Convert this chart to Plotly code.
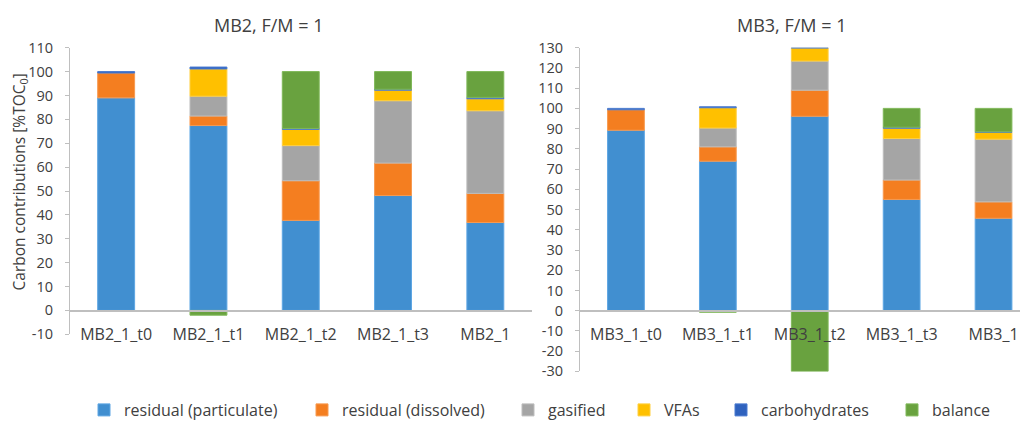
import plotly.graph_objects as go

# ---------------- data ----------------
cats_mb2 = ["MB2_1_t0", "MB2_1_t1", "MB2_1_t2", "MB2_1_t3", "MB2_1"]
cats_mb3 = ["MB3_1_t0", "MB3_1_t1", "MB3_1_t2", "MB3_1_t3", "MB3_1"]

series_names = ["residual (particulate)", "residual (dissolved)", "gasified",
                "VFAs", "carbohydrates", "balance"]

# None = component not present (no bar segment drawn)
mb2_particulate = [89.0, 77.4, 37.7, 48.1, 36.8]
mb2_dissolved = [10.4, 4.0, 16.6, 13.6, 12.2]
mb2_gasified = [None, 8.3, 14.7, 26.1, 34.6]
mb2_vfas = [None, 11.4, 6.8, 4.4, 5.0]
mb2_carbohydrates = [0.6, 0.8, 0.4, 0.4, 0.6]
mb2_balance = [None, -2.0, 23.8, 7.4, 10.8]

mb3_particulate = [89.2, 73.9, 96.1, 55.0, 45.7]
mb3_dissolved = [10.1, 7.1, 12.9, 9.6, 8.1]
mb3_gasified = [None, 9.3, 14.4, 20.5, 31.0]
mb3_vfas = [None, 10.0, 6.4, 5.1, 3.4]
mb3_carbohydrates = [0.7, 0.5, 0.3, 0.5, 0.2]
mb3_balance = [None, -0.8, -30.0, 9.3, 11.6]

y_ticks_mb2 = list(range(-10, 111, 10))
y_ticks_mb3 = list(range(-30, 131, 10))

title_mb2 = "MB2, F/M = 1"
title_mb3 = "MB3, F/M = 1"
y_title = "Carbon contributions [%TOC<sub>0</sub>]"

# ---------------- styles ----------------
colors = ["#418FD0", "#F47E20", "#A5A5A5", "#FFC000", "#2F62BE", "#69A23F"]
edge_colors = ["#5EA6E3", "#F79A50", "#BDBDBD", "#FFCF40", "#4A7BD0", "#80B85A"]
legend_ids = ["legend", "legend2", "legend3", "legend4", "legend5", "legend6"]
legend_marker_left_px = [103, 321, 527, 643, 740, 911]

WIN_W, WIN_H = 1028, 421
OFF = 8  # default page body margin
W, H = WIN_W - OFF, WIN_H - OFF
FONT = "Open Sans"
TXT = "#404040"
AX = "#BFBFBF"

mb2_data = [mb2_particulate, mb2_dissolved, mb2_gasified, mb2_vfas,
            mb2_carbohydrates, mb2_balance]
mb3_data = [mb3_particulate, mb3_dissolved, mb3_gasified, mb3_vfas,
            mb3_carbohydrates, mb3_balance]

fig = go.Figure()
for i, name in enumerate(series_names):
    fig.add_trace(go.Bar(
        x=cats_mb2, y=mb2_data[i], name=name, xaxis="x", yaxis="y",
        marker=dict(color=colors[i], line=dict(color=edge_colors[i], width=1)),
        legend=legend_ids[i], showlegend=True,
    ))
    fig.add_trace(go.Bar(
        x=cats_mb3, y=mb3_data[i], name=name, xaxis="x2", yaxis="y2",
        marker=dict(color=colors[i], line=dict(color=edge_colors[i], width=1)),
        legend=legend_ids[i], showlegend=False,
    ))


def px_x(p):
    # screen pixel -> paper fraction
    return (p - OFF) / W


def px_y(p):
    return (WIN_H - p) / H


zero_pos = px_y(310.7)

xaxis_common = dict(
    type="category", showgrid=False, zeroline=False, showline=True,
    linecolor=AX, linewidth=2, ticks="", anchor="free", position=zero_pos,
    tickfont=dict(family=FONT, size=16, color=TXT), ticklabelstandoff=9,
    automargin=False,
)
yaxis_common = dict(
    showgrid=False, zeroline=False, showline=True, linecolor=AX, linewidth=1,
    ticks="outside", ticklen=4, tickcolor=AX,
    tickfont=dict(family=FONT, size=14.5, color=TXT), ticklabelstandoff=9,
    automargin=False,
)

layout = dict(
    width=W, height=H, margin=dict(l=0, r=0, t=0, b=0, autoexpand=False),
    paper_bgcolor="white", plot_bgcolor="white",
    barmode="relative", bargap=0.6,
    xaxis=dict(xaxis_common, domain=[px_x(70), px_x(531.5)], range=[-0.5, 4.5]),
    xaxis2=dict(xaxis_common, domain=[px_x(580), 1.0], range=[-0.5, 4.375]),
    yaxis=dict(yaxis_common, domain=[px_y(334.3), px_y(47.7)], range=[-10, 110],
               tickvals=y_ticks_mb2, ticktext=[str(v) for v in y_ticks_mb2],
               anchor="x"),
    yaxis2=dict(yaxis_common, domain=[px_y(371.4), px_y(47.7)], range=[-30, 130],
                tickvals=y_ticks_mb3, ticktext=[str(v) for v in y_ticks_mb3],
                anchor="x2"),
    annotations=[
        dict(text=title_mb2, x=px_x(268), y=px_y(25), xref="paper", yref="paper",
             showarrow=False, font=dict(family=FONT, size=18, color=TXT),
             xanchor="center", yanchor="middle"),
        dict(text=title_mb3, x=px_x(791), y=px_y(25), xref="paper", yref="paper",
             showarrow=False, font=dict(family=FONT, size=18, color=TXT),
             xanchor="center", yanchor="middle"),
        dict(text=y_title, x=px_x(19), y=px_y(182.5), xref="paper", yref="paper",
             showarrow=False, textangle=-90,
             font=dict(family=FONT, size=15.5, color=TXT),
             xanchor="center", yanchor="middle"),
    ],
)
for lid, mx in zip(legend_ids, legend_marker_left_px):
    layout[lid] = dict(
        orientation="h", x=px_x(mx - 19), y=px_y(410), xanchor="left",
        yanchor="middle", bgcolor="rgba(0,0,0,0)", borderwidth=0,
        font=dict(family=FONT, size=16, color=TXT),
    )

fig.update_layout(**layout)
fig.write_html("out.html")
